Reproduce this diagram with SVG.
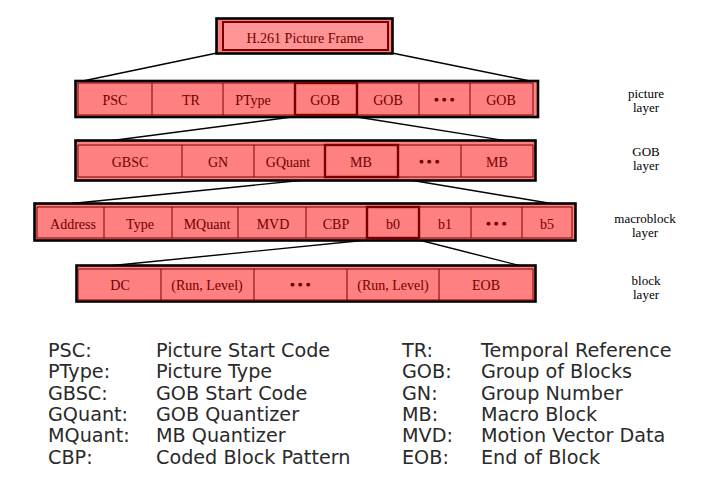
<svg xmlns="http://www.w3.org/2000/svg" width="715" height="481" viewBox="0 0 715 481">
<style>
.outer{fill:#FF8080;stroke:#000;stroke-width:2.6}
.cell{fill:#FF8080;stroke:#800000;stroke-width:1}
.hl{fill:none;stroke:#7A0000;stroke-width:2.4}
.t{font-family:"Liberation Serif","Times New Roman",serif;font-size:14px;fill:#700000;text-anchor:middle}
.dots{font-family:"DejaVu Sans",sans-serif;font-size:5px;fill:#700000;text-anchor:middle;letter-spacing:3.5px}
.side{font-family:"Liberation Serif","Times New Roman",serif;font-size:13px;fill:#000;text-anchor:middle}
.lg{font-family:"DejaVu Sans","Liberation Sans",sans-serif;font-size:19.2px;fill:#2a2a2a}
.conn{stroke:#000;stroke-width:1.4;fill:none}
</style>
<rect width="715" height="481" fill="#fff"/>
<g id="connectors">
<line class="conn" x1="217" y1="53" x2="78" y2="82"/>
<line class="conn" x1="392" y1="53" x2="535" y2="82"/>
<line class="conn" x1="292" y1="117" x2="78" y2="145"/>
<line class="conn" x1="357" y1="117" x2="533" y2="145"/>
<line class="conn" x1="325" y1="178" x2="37" y2="207"/>
<line class="conn" x1="398" y1="178" x2="572" y2="207"/>
<line class="conn" x1="367" y1="240" x2="78" y2="269"/>
<line class="conn" x1="419" y1="240" x2="533" y2="269"/>
</g>
<g id="frame">
<rect class="outer" x="216.5" y="18.5" width="176" height="35"/>
<rect x="223" y="22" width="165" height="28" fill="#FF9494" stroke="#7A0000" stroke-width="2"/>
<text class="t" x="305" y="43">H.261 Picture Frame</text>
</g>
<g id="picture-layer">
<rect class="outer" x="75.5" y="81" width="462.5" height="36"/>
<rect class="cell" x="78" y="83" width="455" height="32"/>
<line class="cell" x1="152" y1="83" x2="152" y2="115"/>
<line class="cell" x1="223" y1="83" x2="223" y2="115"/>
<line class="cell" x1="419" y1="83" x2="419" y2="115"/>
<line class="cell" x1="470" y1="83" x2="470" y2="115"/>
<rect class="hl" x="295" y="83" width="62" height="32"/>
<text class="t" x="115" y="105">PSC</text>
<text class="t" x="191" y="105">TR</text>
<text class="t" x="253" y="105">PType</text>
<text class="t" x="325" y="105">GOB</text>
<text class="t" x="388" y="105">GOB</text>
<text class="dots" x="446" y="101">●●●</text>
<text class="t" x="501" y="105">GOB</text>
</g>
<g id="gob-layer">
<rect class="outer" x="75.5" y="140.5" width="460" height="40"/>
<rect class="cell" x="78" y="145" width="455" height="32"/>
<line class="cell" x1="182" y1="145" x2="182" y2="177"/>
<line class="cell" x1="254" y1="145" x2="254" y2="177"/>
<line class="cell" x1="461" y1="145" x2="461" y2="177"/>
<rect class="hl" x="325" y="145" width="73" height="32"/>
<text class="t" x="130" y="167">GBSC</text>
<text class="t" x="218" y="167">GN</text>
<text class="t" x="288" y="167">GQuant</text>
<text class="t" x="361" y="167">MB</text>
<text class="dots" x="431" y="163">●●●</text>
<text class="t" x="497" y="167">MB</text>
</g>
<g id="macroblock-layer">
<rect class="outer" x="34.5" y="203.5" width="541" height="37"/>
<rect class="cell" x="37" y="207" width="535" height="31"/>
<line class="cell" x1="104" y1="207" x2="104" y2="238"/>
<line class="cell" x1="172" y1="207" x2="172" y2="238"/>
<line class="cell" x1="238" y1="207" x2="238" y2="238"/>
<line class="cell" x1="306" y1="207" x2="306" y2="238"/>
<line class="cell" x1="471" y1="207" x2="471" y2="238"/>
<line class="cell" x1="522" y1="207" x2="522" y2="238"/>
<rect class="hl" x="367" y="207" width="52" height="31"/>
<text class="t" x="73" y="229">Address</text>
<text class="t" x="140" y="229">Type</text>
<text class="t" x="207" y="229">MQuant</text>
<text class="t" x="273" y="229">MVD</text>
<text class="t" x="336" y="229">CBP</text>
<text class="t" x="393" y="229">b0</text>
<text class="t" x="445" y="229">b1</text>
<text class="dots" x="498" y="225">●●●</text>
<text class="t" x="547" y="229">b5</text>
</g>
<g id="block-layer">
<rect class="outer" x="76.5" y="265.5" width="459" height="36"/>
<rect class="cell" x="78" y="269" width="455" height="31"/>
<line class="cell" x1="161" y1="269" x2="161" y2="300"/>
<line class="cell" x1="254" y1="269" x2="254" y2="300"/>
<line class="cell" x1="347" y1="269" x2="347" y2="300"/>
<line class="cell" x1="439" y1="269" x2="439" y2="300"/>
<text class="t" x="120" y="290">DC</text>
<text class="t" x="207" y="290">(Run, Level)</text>
<text class="dots" x="302" y="286">●●●</text>
<text class="t" x="393" y="290">(Run, Level)</text>
<text class="t" x="486" y="290">EOB</text>
</g>
<g id="layer-labels">
<text class="side" x="646" y="98">picture</text>
<text class="side" x="646" y="112">layer</text>
<text class="side" x="646" y="156">GOB</text>
<text class="side" x="646" y="170">layer</text>
<text class="side" x="645" y="223">macroblock</text>
<text class="side" x="645" y="237">layer</text>
<text class="side" x="646" y="285">block</text>
<text class="side" x="646" y="299">layer</text>
</g>
<g id="legend" class="lg">
<text x="48" y="357">PSC:</text><text x="156" y="357">Picture Start Code</text>
<text x="48" y="378.3">PType:</text><text x="156" y="378.3">Picture Type</text>
<text x="48" y="399.6">GBSC:</text><text x="156" y="399.6">GOB Start Code</text>
<text x="48" y="420.9">GQuant:</text><text x="156" y="420.9">GOB Quantizer</text>
<text x="48" y="442.2">MQuant:</text><text x="156" y="442.2">MB Quantizer</text>
<text x="48" y="463.5">CBP:</text><text x="156" y="463.5">Coded Block Pattern</text>
<text x="402" y="357">TR:</text><text x="481" y="357">Temporal Reference</text>
<text x="402" y="378.3">GOB:</text><text x="481" y="378.3">Group of Blocks</text>
<text x="402" y="399.6">GN:</text><text x="481" y="399.6">Group Number</text>
<text x="402" y="420.9">MB:</text><text x="481" y="420.9">Macro Block</text>
<text x="402" y="442.2">MVD:</text><text x="481" y="442.2">Motion Vector Data</text>
<text x="402" y="463.5">EOB:</text><text x="481" y="463.5">End of Block</text>
</g>
</svg>
